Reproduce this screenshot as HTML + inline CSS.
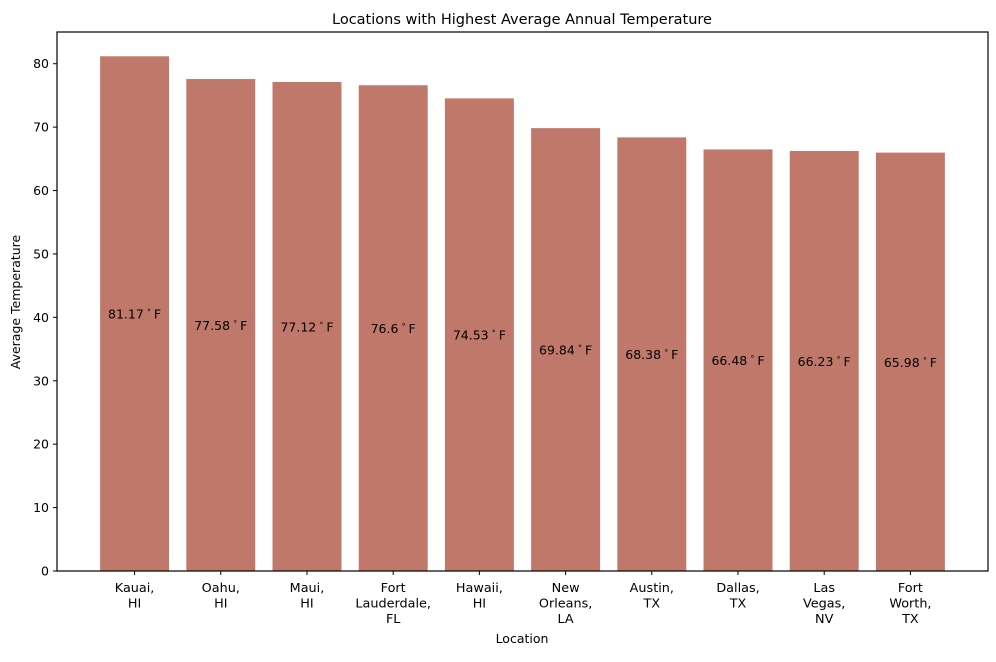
<!DOCTYPE html>
<html><head><meta charset="utf-8"><style>
body{margin:0;background:#fff;font-family:"Liberation Sans","DejaVu Sans",sans-serif}
</style></head><body>
<svg id="chart" width="996" height="657" xmlns="http://www.w3.org/2000/svg" font-family="DejaVu Sans, Liberation Sans, sans-serif">
<rect width="996" height="657" fill="#fff"/>
<text x="522" y="24" text-anchor="middle" font-size="14.5">Locations with Highest Average Annual Temperature</text>
<g id="plot"></g>
<rect x="57" y="32" width="931" height="539" fill="none" stroke="#000" stroke-width="1.2"/>
<text transform="translate(20,302) rotate(-90)" text-anchor="middle" font-size="12.5">Average Temperature</text>
<text x="522" y="643" text-anchor="middle" font-size="12.5">Location</text>
</svg>
<script>
const categories=[["Kauai,","HI"],["Oahu,","HI"],["Maui,","HI"],["Fort","Lauderdale,","FL"],["Hawaii,","HI"],["New","Orleans,","LA"],["Austin,","TX"],["Dallas,","TX"],["Las","Vegas,","NV"],["Fort","Worth,","TX"]];
const values=[81.17,77.58,77.12,76.6,74.53,69.84,68.38,66.48,66.23,65.98];
const labels=["81.17","77.58","77.12","76.6","74.53","69.84","68.38","66.48","66.23","65.98"];
const yTicks=[0,10,20,30,40,50,60,70,80];
const NS="http://www.w3.org/2000/svg";
const L=57,R=988,T=32,B=571,yMax=85,xMin=-0.9,xMax=categories.length-0.1;
const x=v=>L+(v-xMin)/(xMax-xMin)*(R-L);
const y=v=>B-v/yMax*(B-T);
const g=document.getElementById('plot');
function mk(t,a){const e=document.createElementNS(NS,t);for(const k in a)e.setAttribute(k,a[k]);g.appendChild(e);return e;}
const bw=0.8*(x(1)-x(0));
values.forEach((v,i)=>{
 const r=mk('rect',{x:x(i)-bw/2,y:y(v),width:bw,height:B-y(v),fill:'#c0786a'});
 
 
 const t=mk('text',{x:x(i),y:y(v/2)+5,'text-anchor':'middle','font-size':'12.5'});
 
 
 t.innerHTML=labels[i]+'<tspan font-size="8" dy="-6"> ∘ </tspan><tspan dy="6">F</tspan>';
 const tk=mk('line',{x1:x(i),x2:x(i),y1:B,y2:B+4,stroke:'#000'});
 
 
 categories[i].forEach((s,j)=>{
  const c=mk('text',{x:x(i),y:B+21+j*15.5,'text-anchor':'middle','font-size':'12.8'});
  
  
  c.textContent=s;
 });
});
yTicks.forEach(v=>{
 const tk=mk('line',{x1:L-4,x2:L,y1:y(v),y2:y(v),stroke:'#000'});
 
 
 const t=mk('text',{x:L-8,y:y(v)+4.5,'text-anchor':'end','font-size':'12.5'});
 
 
 t.textContent=v;
});
</script>
</body></html>
